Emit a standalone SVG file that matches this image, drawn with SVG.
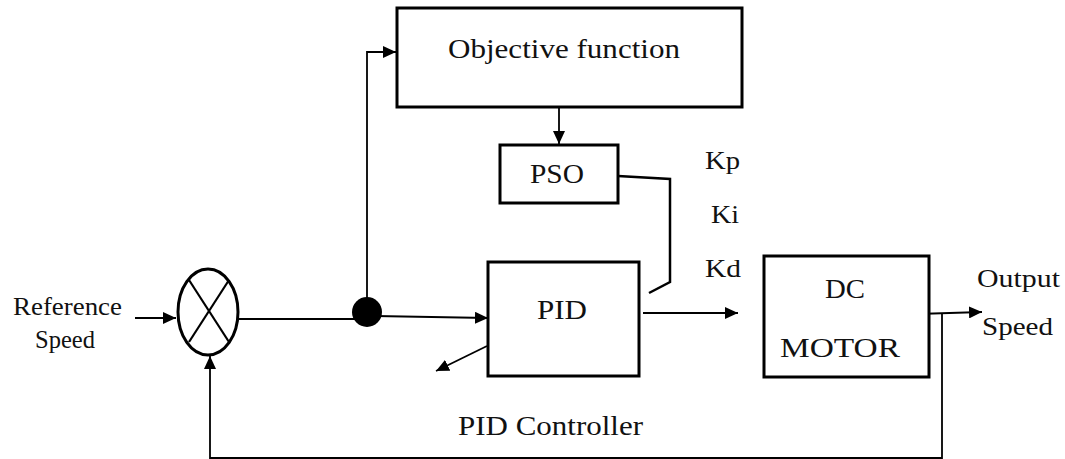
<svg xmlns="http://www.w3.org/2000/svg" width="1065" height="459" viewBox="0 0 1065 459">
<style>
.box{fill:#fff;stroke:#000;stroke-width:3}
.ln{fill:none;stroke:#000;stroke-width:1.8}
.t{font-family:"Liberation Serif","Times New Roman",serif;fill:#111;font-size:26px}
.tb{font-family:"Liberation Serif","Times New Roman",serif;fill:#111;font-size:28px}
</style>
<defs>
<marker id="ah" markerUnits="userSpaceOnUse" markerWidth="14" markerHeight="12" refX="13" refY="6" orient="auto">
<path d="M0,0 L13,6 L0,12 Z" fill="#000"/>
</marker>
</defs>
<rect width="1065" height="459" fill="#fff"/>
<g id="connectors">
<line class="ln" x1="135" y1="318" x2="176" y2="318" marker-end="url(#ah)"/>
<line class="ln" x1="238" y1="319" x2="360" y2="319"/>
<polyline class="ln" points="367,305 367,52 396,52" marker-end="url(#ah)"/>
<polyline class="ln" points="375,316 488,318" marker-end="url(#ah)"/>
<line class="ln" x1="559" y1="107" x2="559" y2="144" marker-end="url(#ah)"/>
<polyline class="ln" points="618,176 670,179 670,282 649,293" style="stroke-width:2.5"/>
<line class="ln" x1="643" y1="313" x2="738" y2="313" marker-end="url(#ah)"/>
<line class="ln" x1="487" y1="346" x2="436" y2="371" marker-end="url(#ah)"/>
<polyline class="ln" points="917,314 982,312" marker-end="url(#ah)"/>
<polyline class="ln" points="942,314 942,458 210,458 210,356" marker-end="url(#ah)"/>
</g>
<g id="sum">
<ellipse cx="208" cy="312" rx="30" ry="43" fill="#fff" stroke="#000" stroke-width="3"/>
<line class="ln" x1="189" y1="280" x2="229" y2="342" style="stroke-width:2.2"/>
<line class="ln" x1="229" y1="280" x2="189" y2="342" style="stroke-width:2.2"/>
</g>
<g id="junction">
<circle cx="367" cy="312" r="15" fill="#000"/>
</g>
<g id="objective">
<rect class="box" x="397" y="8" width="345" height="99"/>
<text class="tb" x="448" y="58" textLength="232" lengthAdjust="spacingAndGlyphs">Objective function</text>
</g>
<g id="pso">
<rect class="box" x="500" y="145" width="118" height="58"/>
<text class="tb" x="530" y="183" textLength="54" lengthAdjust="spacingAndGlyphs">PSO</text>
</g>
<g id="pid">
<rect class="box" x="488" y="262" width="151" height="114"/>
<text class="tb" x="537" y="319" textLength="50" lengthAdjust="spacingAndGlyphs">PID</text>
</g>
<g id="motor">
<rect class="box" x="764" y="256" width="165" height="121"/>
<text class="tb" x="825" y="298" textLength="40" lengthAdjust="spacingAndGlyphs">DC</text>
<text class="tb" x="780" y="357" textLength="120" lengthAdjust="spacingAndGlyphs">MOTOR</text>
</g>
<g id="labels">
<text class="t" x="13" y="315" textLength="109" lengthAdjust="spacingAndGlyphs">Reference</text>
<text class="t" x="35" y="348" textLength="60" lengthAdjust="spacingAndGlyphs">Speed</text>
<text class="t" x="977" y="287" textLength="83" lengthAdjust="spacingAndGlyphs">Output</text>
<text class="t" x="982" y="335" textLength="71" lengthAdjust="spacingAndGlyphs">Speed</text>
<text class="t" x="705" y="169" textLength="35" lengthAdjust="spacingAndGlyphs">Kp</text>
<text class="t" x="711" y="223" textLength="28" lengthAdjust="spacingAndGlyphs">Ki</text>
<text class="t" x="705" y="277" textLength="36" lengthAdjust="spacingAndGlyphs">Kd</text>
<text class="tb" x="458" y="435" textLength="185" lengthAdjust="spacingAndGlyphs">PID Controller</text>
</g>
</svg>
